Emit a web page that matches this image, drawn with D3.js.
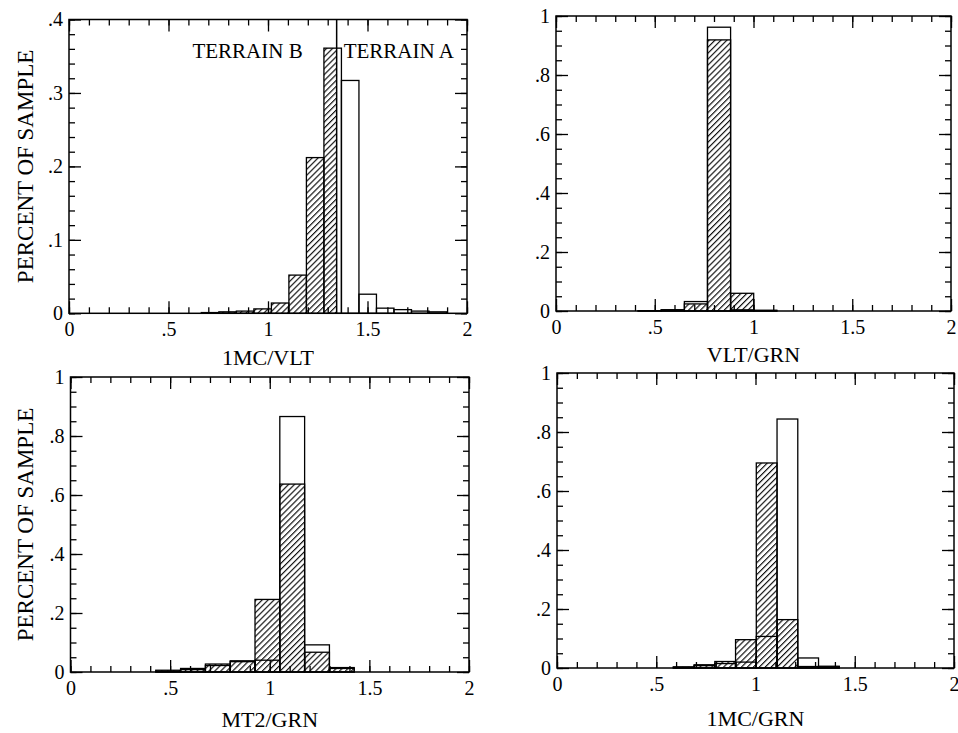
<!DOCTYPE html>
<html lang="en">
<head>
<meta charset="UTF-8">
<title>Percent of sample by band ratio</title>
<script src="https://cdnjs.cloudflare.com/ajax/libs/d3/7.8.5/d3.min.js"></script>
<style>
    html, body {
        margin: 0;
        background: #fff;
    }
    svg text {
        font-family: 'Liberation Serif', 'Times New Roman', serif;
        fill: #000;
    }
</style>
</head>
<body>
<div id="vis"></div>
<script>
    // ---- data ----
    var titles = ['1MC/VLT', 'VLT/GRN', 'MT2/GRN', '1MC/GRN'];
    var yLabel = 'PERCENT OF SAMPLE';

    var xTickValues = [0, 0.5, 1, 1.5, 2];
    var xTickLabels = ['0', '.5', '1', '1.5', '2'];
    var yTickValuesSmall = [0, 0.1, 0.2, 0.3, 0.4];
    var yTickLabelsSmall = ['0', '.1', '.2', '.3', '.4'];
    var yTickValuesFull = [0, 0.2, 0.4, 0.6, 0.8, 1];
    var yTickLabelsFull = ['0', '.2', '.4', '.6', '.8', '1'];

    // 1MC/VLT : terrain B (hatched) left of the split, terrain A (open) right of it
    var p1Split = 1.345;
    var p1BinWidth = 0.088;
    var p1HatchedStart = 0.665;
    var p1Hatched = [0.001, 0.002, 0.003, 0.006, 0.014, 0.052, 0.212, 0.361];
    var p1OpenStart = 1.281;
    var p1Open = [0.361, 0.317, 0.026, 0.007, 0.005, 0.003, 0.002];

    // VLT/GRN
    var p2BinWidth = 0.117;
    var p2Start = 0.416;
    var p2Hatched = [0.001, 0.004, 0.024, 0.919, 0.06, 0.002];
    var p2Open = [0.001, 0.004, 0.032, 0.962, 0.004, 0.002];

    // MT2/GRN
    var p3BinWidth = 0.1245;
    var p3Start = 0.428;
    var p3Hatched = [0.006, 0.012, 0.027, 0.038, 0.246, 0.637, 0.067, 0.012];
    var p3Open = [0.003, 0.008, 0.022, 0.035, 0.04, 0.866, 0.092, 0.015];

    // 1MC/GRN
    var p4BinWidth = 0.1045;
    var p4Start = 0.586;
    var p4Hatched = [0.004, 0.011, 0.022, 0.096, 0.695, 0.164, 0.005, 0.004];
    var p4Open = [0.002, 0.008, 0.015, 0.02, 0.107, 0.844, 0.034, 0.006];

    // ---- layout ----
    var width = 958;
    var height = 733;

    var frames = [
        {left: 69, right: 467, top: 19.5, bottom: 313.3, titleDy: 52},
        {left: 556, right: 951, top: 16, bottom: 311, titleDy: 51},
        {left: 70.5, right: 469, top: 377, bottom: 672, titleDy: 55},
        {left: 557, right: 954, top: 373, bottom: 668, titleDy: 58}
    ];

    var panels = [
        {title: titles[0], yMax: 0.4, yMinor: 0.02, yTicks: yTickValuesSmall, yLabels: yTickLabelsSmall,
         hatchedStart: p1HatchedStart, openStart: p1OpenStart, binWidth: p1BinWidth,
         hatched: p1Hatched, open: p1Open, split: p1Split},
        {title: titles[1], yMax: 1, yMinor: 0.05, yTicks: yTickValuesFull, yLabels: yTickLabelsFull,
         hatchedStart: p2Start, openStart: p2Start, binWidth: p2BinWidth,
         hatched: p2Hatched, open: p2Open},
        {title: titles[2], yMax: 1, yMinor: 0.05, yTicks: yTickValuesFull, yLabels: yTickLabelsFull,
         hatchedStart: p3Start, openStart: p3Start, binWidth: p3BinWidth,
         hatched: p3Hatched, open: p3Open},
        {title: titles[3], yMax: 1, yMinor: 0.05, yTicks: yTickValuesFull, yLabels: yTickLabelsFull,
         hatchedStart: p4Start, openStart: p4Start, binWidth: p4BinWidth,
         hatched: p4Hatched, open: p4Open}
    ];

    var svg = d3.select('#vis')
        .append('svg')
            .attr('width', width)
            .attr('height', height);

    var defs = svg.append('defs');

    defs.append('pattern')
            .attr('id', 'hatch')
            .attr('patternUnits', 'userSpaceOnUse')
            .attr('width', 4.2)
            .attr('height', 4.2)
            .attr('patternTransform', 'rotate(45)')
        .append('line')
            .attr('x1', 0.6)
            .attr('y1', 0)
            .attr('x2', 0.6)
            .attr('y2', 4.2)
            .attr('stroke', '#000')
            .attr('stroke-width', 1.1);

    function bins(start, binWidth, values) {
        return values.map(function(v, i){
            return {x0: start + i * binWidth, x1: start + (i + 1) * binWidth, v: v};
        });
    }

    function styleAxis(g) {
        g.select('.domain').remove();
        g.selectAll('.tick line')
            .attr('stroke', '#000')
            .attr('stroke-width', 1.3);
    }

    panels.forEach(function(p, k){
        var f = frames[k];

        var x = d3.scaleLinear()
            .domain([0, 2])
            .range([f.left, f.right]);

        var y = d3.scaleLinear()
            .domain([0, p.yMax])
            .range([f.bottom, f.top]);

        var g = svg.append('g');

        var xMinor = d3.range(0, 21).map(function(i){ return i / 10; });
        var yMinor = d3.range(0, Math.round(p.yMax / p.yMinor) + 1).map(function(i){ return +(i * p.yMinor).toFixed(3); });

        // clip regions for the terrain split
        var leftClip = 'clipL' + k;
        var rightClip = 'clipR' + k;
        var splitX = p.split !== undefined ? x(p.split) : f.right;

        defs.append('clipPath').attr('id', leftClip)
            .append('rect')
                .attr('x', f.left)
                .attr('y', f.top)
                .attr('width', splitX - f.left)
                .attr('height', f.bottom - f.top + 2);

        defs.append('clipPath').attr('id', rightClip)
            .append('rect')
                .attr('x', p.split !== undefined ? splitX : f.left)
                .attr('y', f.top)
                .attr('width', p.split !== undefined ? f.right - splitX : f.right - f.left)
                .attr('height', f.bottom - f.top + 2);

        // hatched histogram
        g.append('g')
                .attr('clip-path', 'url(#' + leftClip + ')')
            .selectAll('rect')
            .data(bins(p.hatchedStart, p.binWidth, p.hatched))
            .enter()
            .append('rect')
                .attr('x', function(d){ return x(d.x0); })
                .attr('y', function(d){ return y(d.v); })
                .attr('width', function(d){ return x(d.x1) - x(d.x0); })
                .attr('height', function(d){ return y(0) - y(d.v); })
                .attr('fill', 'url(#hatch)')
                .attr('stroke', '#000')
                .attr('stroke-width', 1.3);

        // open histogram
        g.append('g')
                .attr('clip-path', 'url(#' + rightClip + ')')
            .selectAll('rect')
            .data(bins(p.openStart, p.binWidth, p.open))
            .enter()
            .append('rect')
                .attr('x', function(d){ return x(d.x0); })
                .attr('y', function(d){ return y(d.v); })
                .attr('width', function(d){ return x(d.x1) - x(d.x0); })
                .attr('height', function(d){ return y(0) - y(d.v); })
                .attr('fill', 'none')
                .attr('stroke', '#000')
                .attr('stroke-width', 1.3);

        // inward ticks on all four sides
        g.append('g')
            .attr('transform', 'translate(0,' + f.bottom + ')')
            .call(d3.axisBottom(x).tickValues(xMinor).tickSize(-6).tickFormat(''))
            .call(styleAxis);
        g.append('g')
            .attr('transform', 'translate(0,' + f.top + ')')
            .call(d3.axisTop(x).tickValues(xMinor).tickSize(-6).tickFormat(''))
            .call(styleAxis);
        g.append('g')
            .attr('transform', 'translate(0,' + f.bottom + ')')
            .call(d3.axisBottom(x).tickValues(xTickValues).tickSize(-12)
                .tickFormat(function(d, i){ return xTickLabels[i]; }).tickPadding(9))
            .call(styleAxis);
        g.append('g')
            .attr('transform', 'translate(0,' + f.top + ')')
            .call(d3.axisTop(x).tickValues(xTickValues).tickSize(-12).tickFormat(''))
            .call(styleAxis);

        g.append('g')
            .attr('transform', 'translate(' + f.left + ',0)')
            .call(d3.axisLeft(y).tickValues(yMinor).tickSize(-6).tickFormat(''))
            .call(styleAxis);
        g.append('g')
            .attr('transform', 'translate(' + f.right + ',0)')
            .call(d3.axisRight(y).tickValues(yMinor).tickSize(-6).tickFormat(''))
            .call(styleAxis);
        g.append('g')
            .attr('transform', 'translate(' + f.left + ',0)')
            .call(d3.axisLeft(y).tickValues(p.yTicks).tickSize(-12)
                .tickFormat(function(d, i){ return p.yLabels[i]; }).tickPadding(6))
            .call(styleAxis);
        g.append('g')
            .attr('transform', 'translate(' + f.right + ',0)')
            .call(d3.axisRight(y).tickValues(p.yTicks).tickSize(-12).tickFormat(''))
            .call(styleAxis);

        g.selectAll('.tick text')
            .attr('font-size', 20)
            .attr('font-family', "'Liberation Serif', serif")
            .attr('fill', '#000');

        // frame
        g.append('rect')
            .attr('x', f.left)
            .attr('y', f.top)
            .attr('width', f.right - f.left)
            .attr('height', f.bottom - f.top)
            .attr('fill', 'none')
            .attr('stroke', '#000')
            .attr('stroke-width', 1.5);

        // split line and terrain labels
        if (p.split !== undefined) {
            g.append('line')
                .attr('x1', splitX)
                .attr('x2', splitX)
                .attr('y1', f.top)
                .attr('y2', f.bottom)
                .attr('stroke', '#000')
                .attr('stroke-width', 1.5);

            g.append('text')
                .attr('x', splitX - 34)
                .attr('y', f.top + 38.5)
                .attr('text-anchor', 'end')
                .attr('font-size', 21)
                .text('TERRAIN B');

            g.append('text')
                .attr('x', splitX + 7)
                .attr('y', f.top + 38.5)
                .attr('text-anchor', 'start')
                .attr('font-size', 21)
                .text('TERRAIN A');
        }

        // x title
        g.append('text')
            .attr('x', (f.left + f.right) / 2)
            .attr('y', f.bottom + f.titleDy)
            .attr('text-anchor', 'middle')
            .attr('font-size', 22)
            .text(p.title);

        // y title on left column
        if (k % 2 === 0) {
            g.append('text')
                .attr('transform', 'translate(25,' + ((f.top + f.bottom) / 2) + ') rotate(-90)')
                .attr('text-anchor', 'middle')
                .attr('dominant-baseline', 'central')
                .attr('font-size', 23)
                .text(yLabel);
        }
    });
</script>
</body>
</html>
